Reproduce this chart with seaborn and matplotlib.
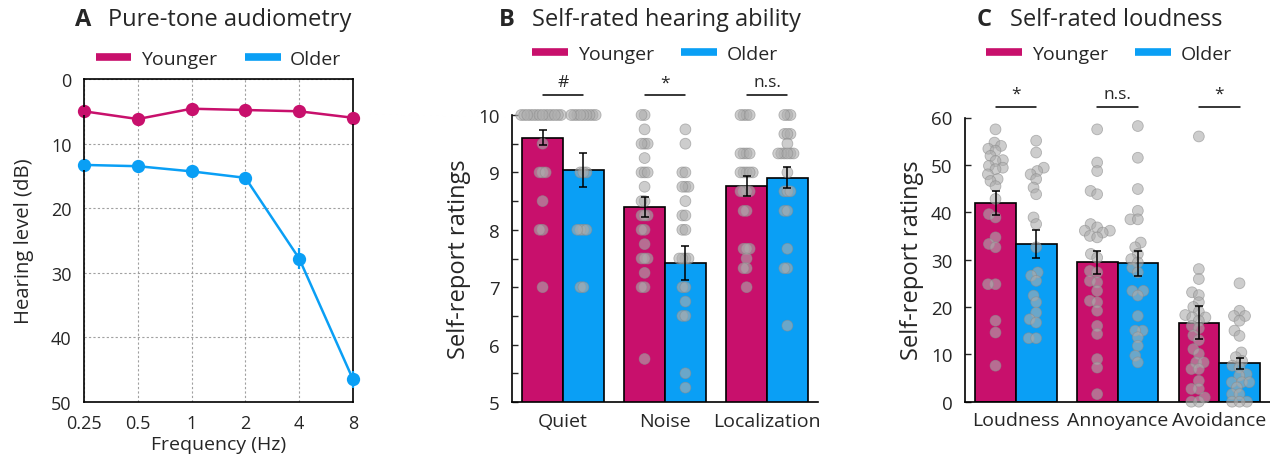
import numpy as np
import pandas as pd
import matplotlib
matplotlib.use("Agg")
import matplotlib.pyplot as plt
from matplotlib.lines import Line2D
from matplotlib.collections import PathCollection
import seaborn as sns

# ---------------- data ----------------
groups = ["Younger", "Older"]
group_colors = ["#C8106C", "#0A9FF5"]

# A: pure-tone audiometry (dB HL, mean and SE)
freq_labels = ["0.25", "0.5", "1", "2", "4", "8"]
hl_younger = [5.0, 6.2, 4.6, 4.8, 5.0, 6.0]
hl_older = [13.3, 13.5, 14.3, 15.3, 27.8, 46.5]
hl_younger_se = [0.6, 0.7, 0.6, 0.6, 1.0, 0.9]
hl_older_se = [0.8, 0.8, 0.7, 0.8, 1.6, 1.3]

# B: self-rated hearing ability
hearing_cats = ["Quiet", "Noise", "Localization"]
hearing_mean_younger = [9.60, 8.40, 8.76]
hearing_mean_older = [9.04, 7.42, 8.91]
hearing_se_younger = [0.13, 0.18, 0.17]
hearing_se_older = [0.29, 0.30, 0.18]
hearing_sig = ["#", "*", "n.s."]

quiet_younger = [10, 10, 10, 10, 10, 10, 10, 10, 10, 10, 10, 10, 10, 10,
                 9.5, 9, 9, 9, 8.5, 8, 8, 7]
quiet_older = [10, 10, 10, 10, 10, 10, 10, 10, 10, 9, 9, 9, 8, 8, 8, 8, 7, 7]
noise_younger = [10, 10, 9.75, 9.5, 9.5, 9.5, 9.25, 9, 9, 9, 8.75, 8.5, 8.5,
                 8.25, 8.25, 8.25, 8, 8, 7.75, 7.5, 7.5, 7.5, 7.25, 7, 7, 5.75]
noise_older = [9.75, 9.5, 9, 9, 8.75, 8.75, 8.75, 8.5, 8.25, 8.25, 8, 8,
               7.5, 7.5, 7.5, 7.5, 7, 7, 6.75, 6.5, 6.5, 5.5, 5.25]
local_younger = [10, 10, 10, 10, 9.33, 9.33, 9.33, 9.33, 9, 9, 9, 9, 9,
                 8.67, 8.67, 8.67, 8.67, 8.33, 8.33, 7.67, 7.67, 7.67, 7.5,
                 7.33, 7.33, 7]
local_older = [10, 10, 10, 9.67, 9.67, 9.67, 9.5, 9.33, 9.33, 9.33, 9.33,
               9.33, 9.33, 9, 8.67, 8.67, 8.67, 8.33, 8.33, 7.67, 7.33, 7.33,
               6.33]

# C: self-rated loudness
loud_cats = ["Loudness", "Annoyance", "Avoidance"]
loud_mean_younger = [41.9, 29.4, 16.7]
loud_mean_older = [33.3, 29.2, 8.1]
loud_se_younger = [2.5, 2.4, 3.5]
loud_se_older = [2.9, 2.7, 1.2]
loud_sig = ["*", "n.s.", "*"]

loudness_younger = [57.5, 54.7, 54.0, 53.4, 53.0, 51.9, 51.0, 50.8, 49.8, 49.4,
                    49.1, 48.0, 47.0, 46.6, 45.5, 42.8, 39.6, 38.9, 34.7, 33.3,
                    32.6, 24.8, 24.8, 17.1, 14.6, 7.6]
loudness_older = [55.1, 52.6, 49.4, 48.7, 48.0, 47.0, 45.2, 43.8, 38.9, 37.5,
                  32.6, 27.3, 26.6, 25.5, 22.4, 21.0, 18.8, 17.4, 16.7, 13.4,
                  13.4]
annoy_younger = [57.5, 50.5, 48.7, 44.5, 43.8, 37.5, 36.8, 36.1, 36.1, 35.7,
                 35.0, 34.7, 31.2, 30.4, 27.6, 27.3, 25.5, 25.2, 23.4, 21.3,
                 21.0, 19.2, 16.0, 14.3, 9.0, 7.2, 1.6]
annoy_older = [58.2, 51.5, 44.9, 40.3, 38.5, 38.5, 33.6, 32.6, 31.2, 30.1,
               29.4, 28.3, 27.3, 23.4, 23.4, 22.4, 18.1, 15.0, 15.0, 13.6,
               11.8, 9.7, 8.3]
avoid_younger = [56.0, 28.0, 25.9, 23.1, 22.5, 21.0, 20.0, 19.0, 18.3, 17.8,
                 17.8, 17.1, 16.0, 15.5, 14.0, 13.0, 11.1, 10.1, 8.3, 8.3,
                 6.9, 6.9, 4.4, 2.7, 2.7, 0.9, 0, 0]
avoid_older = [25.0, 19.2, 18.1, 18.1, 17.1, 15.0, 13.9, 10.4, 9.4, 8.6, 7.6,
               7.2, 5.8, 5.5, 4.1, 4.1, 4.1, 3.0, 1.6, 1.6, 0, 0, 0]

# ---------------- style ----------------
sns.set_style("ticks")
plt.rcParams["font.family"] = ["Open Sans", "DejaVu Sans"]
plt.rcParams["axes.linewidth"] = 1.2
plt.rcParams["axes.edgecolor"] = "black"

TICK_FS = 12.5
TITLE_FS = 17
LEGEND_FS = 14
DOT_SIZE = 7.8
dot_face = (0.68, 0.68, 0.68, 0.6)
dot_edge = (0.55, 0.55, 0.55, 0.6)

fig = plt.figure(figsize=(12.7, 4.56), dpi=100)
W, H = 1270.0, 456.0


def px_axes(x0, x1, ytop, ybot):
    return fig.add_axes([x0 / W, 1 - ybot / H, (x1 - x0) / W, (ybot - ytop) / H])


axA = px_axes(84, 353, 80, 403)
axB = px_axes(512, 818, 116, 403)
axC = px_axes(965, 1270, 118.5, 402.7)


def group_legend(ax, xc, yb):
    handles = [Line2D([0], [0], color=c, lw=5.5, solid_capstyle="butt")
               for c in group_colors]
    ax.legend(handles, groups, ncol=2, frameon=False, loc="lower center",
              bbox_to_anchor=(xc, yb), fontsize=LEGEND_FS, handlelength=1.85,
              columnspacing=1.4, handletextpad=0.5, borderaxespad=0.0,
              borderpad=0.2)


def panel_title(xletter, xtext, letter, text):
    fig.text(xletter / W, 1 - 20 / H, letter, fontsize=TITLE_FS,
             fontweight="bold", va="center", ha="left")
    fig.text(xtext / W, 1 - 20 / H, text, fontsize=TITLE_FS, va="center",
             ha="left")


# ---------------- A: audiometry ----------------
dfA = pd.DataFrame({
    "freq": freq_labels * 2,
    "level": hl_younger + hl_older,
    "group": [groups[0]] * len(freq_labels) + [groups[1]] * len(freq_labels),
})
sns.pointplot(data=dfA, x="freq", y="level", hue="group", order=freq_labels,
              hue_order=groups, palette=group_colors, markers="o",
              markersize=8.2, linewidth=1.8, errorbar=None, legend=False,
              ax=axA)
xpos = np.arange(len(freq_labels))
for vals, errs, col in zip([hl_younger, hl_older],
                           [hl_younger_se, hl_older_se], group_colors):
    axA.errorbar(xpos, vals, yerr=errs, fmt="none", ecolor=col,
                 elinewidth=1.6, capsize=0, clip_on=False, zorder=5)
for art in axA.lines + axA.collections:
    art.set_clip_on(False)
axA.set_xlim(0, len(freq_labels) - 1)
axA.set_ylim(50, 0)
axA.set_yticks([0, 10, 20, 30, 40, 50])
axA.grid(True, linestyle=(0, (2, 2)), color="#a0a0a0", linewidth=0.8)
axA.set_axisbelow(True)
for sp in axA.spines.values():
    sp.set_visible(True)
    sp.set_linewidth(1.2)
axA.tick_params(axis="y", direction="in", length=0, labelsize=TICK_FS + 0.5,
                pad=9)
axA.tick_params(axis="x", direction="in", length=0, labelsize=TICK_FS + 0.5,
                pad=9)
axA.set_xlabel("Frequency (Hz)", fontsize=14, labelpad=2)
axA.set_ylabel("Hearing level (dB)", fontsize=14.6, labelpad=12)
group_legend(axA, 0.5, 1.022)
panel_title(75, 108, "A", "Pure-tone audiometry")


# ---------------- bar panels ----------------
def bar_panel(ax, cats, means_y, means_o, se_y, se_o, raw, sig, ylim, yticks,
              sig_y, layout_size):
    dfm = pd.DataFrame({
        "cat": cats * 2,
        "mean": list(means_y) + list(means_o),
        "group": [groups[0]] * len(cats) + [groups[1]] * len(cats),
    })
    sns.barplot(data=dfm, x="cat", y="mean", hue="group", order=cats,
                hue_order=groups, palette=group_colors, saturation=1,
                edgecolor="black", linewidth=1.2, errorbar=None, width=0.8,
                legend=False, ax=ax, zorder=1)

    rows = []
    for ci, cat in enumerate(cats):
        for gi, g in enumerate(groups):
            for v in raw[ci][gi]:
                rows.append((cat, g, v))
    dfr = pd.DataFrame(rows, columns=["cat", "group", "rating"])
    n_before = len(ax.collections)
    sns.swarmplot(data=dfr, x="cat", y="rating", hue="group", order=cats,
                  hue_order=groups, dodge=True,
                  palette={g: dot_face for g in groups}, size=layout_size,
                  edgecolor=dot_edge, linewidth=0.6, legend=False, ax=ax,
                  zorder=3, warn_thresh=1.0)
    dots = [c for c in ax.collections[n_before:] if isinstance(c, PathCollection)]

    # error bars and significance brackets, positioned on the drawn bars
    centers = {}
    for gi, (cont, ses) in enumerate(zip(ax.containers, [se_y, se_o])):
        for ci, (patch, se) in enumerate(zip(cont.patches, ses)):
            xc = patch.get_x() + patch.get_width() / 2
            centers[(ci, gi)] = xc
            ax.errorbar([xc], [patch.get_height()], yerr=[se], fmt="none",
                        ecolor="black", elinewidth=1.1, capsize=3,
                        capthick=1.1, zorder=4)
    for ci, label in enumerate(sig):
        x0, x1 = centers[(ci, 0)], centers[(ci, 1)]
        ax.plot([x0, x1], [sig_y, sig_y], color="black", lw=1.1,
                clip_on=False)
        ax.text((x0 + x1) / 2, sig_y + (ylim[1] - ylim[0]) * 0.018, label,
                ha="center", va="bottom", fontsize=TICK_FS)

    ax.set_xlim(-0.5, len(cats) - 0.5)
    ax.set_ylim(*ylim)
    ax.set_yticks(yticks)
    sns.despine(ax=ax)
    ax.tick_params(axis="y", direction="in", length=4, width=1,
                   labelsize=13.5, pad=9)
    ax.tick_params(axis="x", length=0, labelsize=14, pad=7)
    ax.set_xlabel("")
    ax.set_ylabel("Self-report ratings", fontsize=17, labelpad=5)
    return dots


dotsB = bar_panel(
    axB, hearing_cats, hearing_mean_younger, hearing_mean_older,
    hearing_se_younger, hearing_se_older,
    [[quiet_younger, quiet_older], [noise_younger, noise_older],
     [local_younger, local_older]],
    hearing_sig, (5, 10), [5, 6, 7, 8, 9, 10], 10.34, 1.5)
axB.set_yticks(np.arange(5.5, 10, 1.0), minor=True)
axB.tick_params(axis="y", which="minor", direction="in", length=4, width=1)
group_legend(axB, 0.467, 1.167)
panel_title(499, 532, "B", "Self-rated hearing ability")

dotsC = bar_panel(
    axC, loud_cats, loud_mean_younger, loud_mean_older,
    loud_se_younger, loud_se_older,
    [[loudness_younger, loudness_older], [annoy_younger, annoy_older],
     [avoid_younger, avoid_older]],
    loud_sig, (0, 60), [0, 10, 20, 30, 40, 50, 60], 62.2, 4.5)
group_legend(axC, 0.472, 1.178)
panel_title(977, 1010, "C", "Self-rated loudness")

# lay out the swarms once with compact markers, then enlarge the dots so
# neighbouring ratings overlap
fig.canvas.draw()
for coll in dotsB + dotsC:
    if "draw" in vars(coll):
        del coll.draw
    coll.set_sizes([DOT_SIZE ** 2])
    coll.set_clip_on(False)

fig.savefig("out.png", dpi=100)
